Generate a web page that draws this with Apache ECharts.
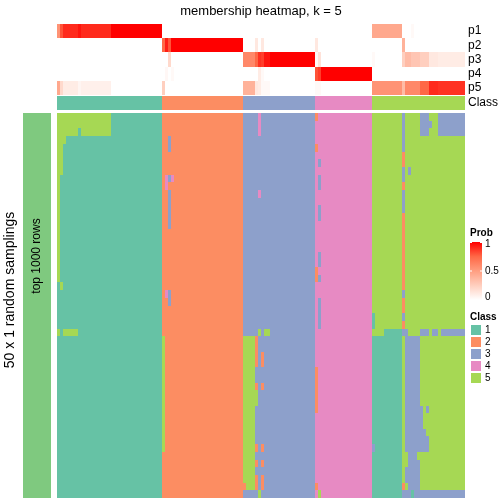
<!DOCTYPE html>
<html><head><meta charset="utf-8">
<script src="https://cdn.jsdelivr.net/npm/echarts@6/dist/echarts.min.js"></script>
<style>html,body{margin:0;padding:0;background:#fff}#c{width:504px;height:504px}</style>
</head><body><div id="c"></div>
<script>
const FONT = '"Liberation Sans", Arial, Helvetica, sans-serif';
const titleText = 'membership heatmap, k = 5';
const probRows = ['p1', 'p2', 'p3', 'p4', 'p5'];
const classRowLabel = 'Class';
const classLabels = ['1', '2', '3', '4', '5'];
const classColors = ['#66C2A5', '#FC8D62', '#8DA0CB', '#E78AC3', '#A6D854'];
const probTicks = ['1', '0.5', '0'];
const rowTitle = 'top 1000 rows';
const sideTitle = '50 x 1 random samplings';

// membership probabilities per sample (136 samples), grouped by class block
const p1 = [
  .55,.8,.9,.9,.9,.9,.9,.95,.9,.9,.9,.9,.9,.9,.9,.9,.9,.9,1,1,1,1,1,1,1,1,1,1,1,1,1,1,1,1,1,
  0,0,0,0,0,0,0,0,0,0,0,0,0,0,0,0,0,0,0,0,0,0,0,0,0,0,0,
  0,0,0,0,0,0,0,0,0,0,0,0,0,0,0,0,0,0,0,0,0,0,0,0,
  0,0,0,0,0,0,0,0,0,0,0,0,0,0,0,0,0,0,0,
  .45,.45,.45,.45,.45,.45,.45,.45,.45,.45,0,0,0,.03,0,0,0,0,0,0,0,0,0,0,0,0,0,0,0,0,0
];
const p2 = [
  0,0,0,0,0,0,0,0,0,0,0,0,0,0,0,0,0,0,0,0,0,0,0,0,0,0,0,0,0,0,0,0,0,0,0,
  .75,.93,.8,1,1,1,1,1,1,1,1,1,1,1,1,1,1,1,1,1,1,1,1,1,1,1,1,
  0,0,0,0,.12,0,.12,0,0,0,0,0,0,0,0,0,0,0,0,0,0,0,0,0,
  .12,0,0,0,0,0,0,0,0,0,0,0,0,0,0,0,0,0,0,
  0,0,0,0,0,0,0,0,0,0,.4,0,0,0,0,0,0,0,0,0,0,0,0,0,0,0,0,0,0,0,0
];
const p3 = [
  0,0,0,0,0,0,0,0,0,0,0,0,0,0,0,0,0,0,0,0,0,0,0,0,0,0,0,0,0,0,0,0,0,0,0,
  0,0,.2,0,0,0,0,0,0,0,0,0,0,0,0,0,0,0,0,0,0,0,0,0,0,0,0,
  .6,.6,.6,.6,.75,.88,.85,.95,.95,1,1,1,1,1,1,1,1,1,1,1,1,1,1,1,
  .03,.15,0,0,0,0,0,0,0,0,0,0,0,0,0,0,0,0,0,
  .03,0,0,0,0,0,0,0,0,0,.25,.35,.35,.3,.3,.3,.25,.25,.25,.12,.12,.12,.1,.1,.1,.1,.1,.1,.1,.1,.1
];
const p4 = [
  0,0,0,0,0,0,0,0,0,0,0,0,0,0,0,0,0,0,0,0,0,0,0,0,0,0,0,0,0,0,0,0,0,0,0,
  0,.04,0,.03,0,0,0,0,0,0,0,0,0,0,0,0,0,0,0,0,0,0,0,0,0,0,0,
  0,0,0,0,0,.1,.03,0,0,0,0,0,0,0,0,0,0,0,0,0,0,0,0,0,
  .8,.85,1,1,1,1,1,1,1,1,1,1,1,1,1,1,1,1,1,
  0,0,0,0,0,0,0,0,0,0,0,0,0,0,0,0,0,0,0,0,0,0,0,0,0,0,0,0,0,0,0
];
const p5 = [
  .45,.2,.1,.1,.1,.1,.1,.05,.08,.08,.08,.08,.08,.08,.08,.08,.08,.08,0,0,0,0,0,0,0,0,0,0,0,0,0,0,0,0,0,
  .25,0,0,0,0,0,0,0,0,0,0,0,0,0,0,0,0,0,0,0,0,0,0,0,0,0,0,
  .4,.4,.4,.4,.12,.1,.03,.03,.03,0,0,0,0,0,0,0,0,0,0,0,0,0,0,0,
  .03,.03,0,0,0,0,0,0,0,0,0,0,0,0,0,0,0,0,0,
  .55,.55,.55,.55,.55,.55,.55,.55,.55,.55,.35,.6,.6,.6,.6,.6,.75,.75,.75,.9,.9,.9,.88,.88,.88,.88,.88,.88,.88,.88,.88
];

// consensus class of each sample
const consensusClass = '11111 11111 11111 11111 11111 11111 11111|22222 22222 22222 22222 22222 22|33333 33333 33333 33333 3333|44444 44444 44444 4444|55555 55555 55555 55555 55555 55555 5';

// class of each sample in each of the 50 random samplings (rows)
const samplings = [
 '55555 55555 55555 55511 11111 11111 11111|22222 22222 22222 22222 22222 22|33333 43333 33333 33333 3333|24444 44444 44444 4444|55555 55555 35555 53335 55333 33333 3',
 '55555 55555 55555 55511 11111 11111 11111|22222 22222 22222 22222 22222 22|33333 43333 33333 33333 3333|44444 44444 44444 4444|55555 55555 35555 53333 55333 33333 3',
 '55555 55155 55555 55511 11111 11111 11111|22222 22222 22222 22222 22222 22|33333 43333 33333 33333 3333|44444 44444 44444 4444|55555 55555 35555 53335 55333 33333 3',
 '55511 11111 11111 11111 11111 11111 11111|22322 22222 22222 22222 22222 22|33333 33333 33333 33333 3333|44444 44444 44444 4444|55555 55555 35555 55555 55555 55555 5',
 '55111 11111 11111 11111 11111 11111 11111|22322 22222 22222 22222 22222 22|33333 33333 33333 33333 3333|24444 44444 44444 4444|55555 55555 35555 55555 55555 55555 5',
 '55111 11111 11111 11111 11111 11111 11111|22222 22222 22222 22222 22222 22|33333 33333 33333 33333 3333|44444 44444 44444 4444|55555 55555 25555 55555 55555 55555 5',
 '55111 11111 11111 11111 11111 11111 11111|22222 22222 22222 22222 22222 22|33333 33333 33333 33333 3333|43444 44444 44444 4444|55555 55555 25555 55555 55555 55555 5',
 '55111 11111 11111 11111 11111 11111 11111|22222 22222 22222 22222 22222 22|33333 33333 33333 33333 3333|44444 44444 44444 4444|55555 55555 35355 55555 55555 55555 5',
 '51111 11111 11111 11111 11111 11111 11111|24342 22222 22222 22222 22222 22|33333 33333 33333 33333 3333|43444 44444 44444 4444|55555 55555 35555 55555 55555 55555 5',
 '51111 11111 11111 11111 11111 11111 11111|24222 22222 22222 22222 22222 22|33333 33333 33333 33333 3333|43444 44444 44444 4444|55555 55555 25555 55555 55555 55555 5',
 '51111 11111 11111 11111 11111 11111 11111|22322 22222 22222 22222 22222 22|33333 43333 33333 33333 3333|44444 44444 44444 4444|55555 55555 35555 55555 55555 55555 5',
 '51111 11111 11111 11111 11111 11111 11111|22322 22222 22222 22222 22222 22|33333 33333 33333 33333 3333|44444 44444 44444 4444|55555 55555 35555 55555 55555 55555 5',
 '51111 11111 11111 11111 11111 11111 11111|22322 22222 22222 22222 22222 22|33333 33333 33333 33333 3333|43444 44444 44444 4444|55555 55555 35555 55555 55555 55555 5',
 '51111 11111 11111 11111 11111 11111 11111|22322 22222 22222 22222 22222 22|33333 33333 33333 33333 3333|43444 44444 44444 4444|55555 55555 25555 55555 55555 55555 5',
 '51111 11111 11111 11111 11111 11111 11111|22322 22222 22222 22222 22222 22|33333 33333 33333 33333 3333|44444 44444 44444 4444|55555 55555 25555 55555 55555 55555 5',
 '51111 11111 11111 11111 11111 11111 11111|22222 22222 22222 22222 22222 22|33333 33333 33333 33333 3333|44444 44444 44444 4444|55555 55555 25555 55555 55555 55555 5',
 '51111 11111 11111 11111 11111 11111 11111|22222 22222 22222 22222 22222 22|33333 33333 33333 33333 3333|44444 44444 44444 4444|55555 55555 25555 55555 55555 55555 5',
 '51111 11111 11111 11111 11111 11111 11111|22222 22222 22222 22222 22222 22|33333 33333 33333 33333 3333|44444 44444 44444 4444|55555 55555 25555 55555 55555 55555 5',
 '51111 11111 11111 11111 11111 11111 11111|22222 22222 22222 22222 22222 22|33333 33333 33333 33333 3333|43444 44444 44444 4444|55555 55555 25555 55555 55555 55555 5',
 '51111 11111 11111 11111 11111 11111 11111|22222 22222 22222 22222 22222 22|33333 33333 33333 33333 3333|43444 44444 44444 4444|55555 55555 25555 55555 55555 55555 5',
 '51111 11111 11111 11111 11111 11111 11111|22222 22222 22222 22222 22222 22|33333 33333 33333 33333 3333|24444 44444 44444 4444|55555 55555 25555 55555 55555 55555 5',
 '51111 11111 11111 11111 11111 11111 11111|22222 22222 22222 22222 22222 22|33333 33333 33333 33333 3333|23444 44444 44444 4444|55555 55555 25555 55555 55555 55555 5',
 '15111 11111 11111 11111 11111 11111 11111|22222 22222 22222 22222 22222 22|33333 33333 33333 33333 3333|44444 44444 44444 4444|55555 55555 25555 55555 55555 55555 5',
 '11111 11111 11111 11111 11111 11111 11111|24322 22222 22222 22222 22222 22|33333 33333 33333 33333 3333|44444 44444 44444 4444|55555 55555 35555 55555 55555 55555 5',
 '11111 11111 11111 11111 11111 11111 11111|22322 22222 22222 22222 22222 22|33333 33333 33333 33333 3333|43444 44444 44444 4444|55555 55555 25555 55555 55555 55555 5',
 '11111 11111 11111 11111 11111 11111 11111|22222 22222 22222 22222 22222 22|33333 33333 33333 33333 3333|43444 44444 44444 4444|55555 55555 25555 55555 55555 55555 5',
 '11111 11111 11111 11111 11111 11111 11111|22222 22222 22222 22222 22222 22|33333 33333 33333 33333 3333|43444 44444 44444 4444|15555 55555 35555 55555 55555 55555 5',
 '11111 11111 11111 11111 11111 11111 11111|22222 22222 22222 22222 22222 22|33333 33333 33333 33333 3333|43444 44444 44444 4444|15555 55555 25555 55555 55555 55555 5',
 '51555 55111 11111 11111 11111 11111 11111|22222 22222 22222 22222 22222 22|33333 53553 33333 33333 3333|44444 44444 44444 4444|55551 11111 33555 53335 33533 33333 3',
 '11111 11111 11111 11111 11111 11111 11111|52222 22222 22222 22222 22222 22|55552 33333 33333 33333 3333|44444 44444 44444 4444|11111 11111 53333 35555 55555 55555 5',
 '11111 11111 11111 11111 11111 11111 11111|52222 22222 22222 22222 22222 22|55552 33333 33333 33333 3333|44444 44444 44444 4444|11111 11111 53333 35555 55555 55555 5',
 '11111 11111 11111 11111 11111 11111 11111|52222 22222 22222 22222 22222 22|55552 32333 33333 33333 3333|44444 44444 44444 4444|11111 11111 53333 35555 55555 55555 5',
 '11111 11111 11111 11111 11111 11111 11111|52222 22222 22222 22222 22222 22|55552 32333 33333 33333 3333|44444 44444 44444 4444|11111 11111 53333 35555 55555 55555 5',
 '11111 11111 11111 11111 11111 11111 11111|52222 22222 22222 22222 22222 22|55553 33333 33333 33333 3333|24444 44444 44444 4444|11111 11111 53333 35555 55555 55555 5',
 '11111 11111 11111 11111 11111 11111 11111|52222 22222 22222 22222 22222 22|55553 33333 33333 33333 3333|24444 44444 44444 4444|11111 11111 53333 35555 55555 55555 5',
 '11111 11111 11111 11111 11111 11111 11111|52222 22222 22222 22222 22222 22|55552 32333 33333 33333 3333|24444 44444 44444 4444|11111 11111 53333 35555 55555 55555 5',
 '11111 11111 11111 11111 11111 11111 11111|52222 22222 22222 22222 22222 22|55555 33333 33333 33333 3333|24444 44444 44444 4444|11111 11111 53333 35555 55555 55555 5',
 '11111 11111 11111 11111 11111 11111 11111|52222 22222 22222 22222 22222 22|55555 33333 33333 33333 3333|24444 44444 44444 4444|11111 11111 53333 35555 55555 55555 5',
 '11111 11111 11111 11111 11111 11111 11111|52222 22222 22222 22222 22222 22|55553 33333 33333 33333 3333|24444 44444 44444 4444|11111 11111 53333 33535 55555 55555 5',
 '11111 11111 11111 11111 11111 11111 11111|52222 22222 22222 22222 22222 22|55553 33333 33333 33333 3333|44444 44444 44444 4444|11111 11111 53333 33555 55555 55555 5',
 '11111 11111 11111 11111 11111 11111 11111|52222 22222 22222 22222 22222 22|55553 33333 33333 33333 3333|44444 44444 44444 4444|11111 11111 53333 33555 55555 55555 5',
 '11111 11111 11111 11111 11111 11111 11111|52222 22222 22222 22222 22222 22|55553 33333 33333 33333 3333|44444 44444 44444 4444|11111 11111 53333 33355 55555 55555 5',
 '11111 11111 11111 11111 11111 11111 11111|52222 22222 22222 22222 22222 22|55553 33333 33333 33333 3333|44444 44444 44444 4444|11111 11111 53333 33335 55555 55555 5',
 '11111 11111 11111 11111 11111 11111 11111|52222 22222 22222 22222 22222 22|55552 32333 33333 33333 3333|44444 44444 44444 4444|31111 11111 53333 33335 55555 55555 5',
 '11111 11111 11111 11111 11111 11111 11111|22222 22222 22222 22222 22222 22|55553 33333 33333 33333 3333|44444 44444 44444 4444|11111 11111 55333 55555 55555 55555 5',
 '11111 11111 11111 11111 11111 11111 11111|22222 22222 22222 22222 22222 22|55552 32333 33333 33333 3333|44444 44444 44444 4444|11111 11111 55333 35555 55555 55555 5',
 '11111 11111 11111 11111 11111 11111 11111|22222 22222 22222 22222 22222 22|55553 33333 33333 33333 3333|44444 44444 44444 4444|11111 11111 53333 35555 55555 55555 5',
 '11111 11111 11111 11111 11111 11111 11111|22222 22222 22222 22222 22222 22|55552 32333 33333 33333 3333|44444 44444 44444 4444|11111 11111 53333 35555 55555 55555 5',
 '11111 11111 11111 11111 11111 11111 11111|22222 22222 22222 22222 22222 22|25552 32333 33333 33333 3333|24444 44444 44444 4444|11111 11111 25333 35555 55555 55555 5',
 '11111 11111 11111 11111 11111 11111 11111|22222 22222 22222 22222 22222 22|33333 53333 33333 33333 3333|45444 44444 44444 4444|11111 11111 33313 33333 33333 33333 3'
];

const probScale = ['#FFFFFF', '#FFCFBF', '#FF9E81', '#FF6846', '#FF0000'];
const sideBarColor = '#7FC97F';

// ---------- build ----------
const clean = s => s.replace(/[ |]/g, '');
const N = 136;
const probs = [p1, p2, p3, p4, p5];
probs.forEach((a, i) => { if (a.length !== N) throw new Error('p' + (i + 1) + ' length ' + a.length); });
const consensusStr = clean(consensusClass);
if (consensusStr.length !== N) throw new Error('consensus length ' + consensusStr.length);
const rowStrs = samplings.map(clean);
rowStrs.forEach((r, i) => { if (r.length !== N) throw new Error('row ' + i + ' length ' + r.length); });

const cols = Array.from({ length: N }, (_, i) => String(i));
const rowIds = rowStrs.map((_, i) => String(i));

const probData = [];
probs.forEach((a, r) => a.forEach((v, c) => probData.push([c, r, v])));
const consensusData = [];
for (let c = 0; c < N; c++) consensusData.push([c, 0, +consensusStr[c]]);
const mainData = [];
rowStrs.forEach((s, r) => { for (let c = 0; c < N; c++) mainData.push([c, r, +s[c]]); });

// cell drawn from the axes' own band scales, snapped to whole pixels so neighbours meet exactly
const snap = v => Math.round(Math.round(v * 1000) / 1000);
function cell(params, api) {
  const p = api.coord([api.value(0), api.value(1)]);
  const sz = api.size([1, 1]);
  const x0 = snap(p[0] - sz[0] / 2), x1 = snap(p[0] + sz[0] / 2);
  const y0 = snap(p[1] - sz[1] / 2), y1 = snap(p[1] + sz[1] / 2);
  return { type: 'rect', shape: { x: x0, y: y0, width: x1 - x0, height: y1 - y0 },
    style: { fill: api.visual('color') } };
}

const L = 57, W = 408;
const hidden = { show: false };
function xa(i) { return { type: 'category', gridIndex: i, data: cols, show: false }; }

const chart = echarts.init(document.getElementById('c'), null, { renderer: 'canvas' });

const gTop = 242, gH = 58, gX = 470, gW = 12;
const legendGraphics = [
  { type: 'text', x: gX, y: 233, style: { text: 'Prob', font: 'bold 10px ' + FONT, fill: '#000', textVerticalAlign: 'middle' } },
  { type: 'rect', shape: { x: gX, y: gTop, width: gW, height: gH },
    style: { fill: { type: 'linear', x: 0, y: 0, x2: 0, y2: 1, colorStops: probScale.slice().reverse().map((c, i) => ({ offset: i / 4, color: c })) } } },
  { type: 'line', shape: { x1: gX, y1: gTop + 0.5, x2: gX + 2, y2: gTop + 0.5 }, style: { stroke: '#fff', lineWidth: 1 } },
  { type: 'line', shape: { x1: gX + gW - 2, y1: gTop + 0.5, x2: gX + gW, y2: gTop + 0.5 }, style: { stroke: '#fff', lineWidth: 1 } },
  { type: 'line', shape: { x1: gX, y1: gTop + gH / 2, x2: gX + 2, y2: gTop + gH / 2 }, style: { stroke: '#fff', lineWidth: 1 } },
  { type: 'line', shape: { x1: gX + gW - 2, y1: gTop + gH / 2, x2: gX + gW, y2: gTop + gH / 2 }, style: { stroke: '#fff', lineWidth: 1 } }
];
probTicks.forEach((t, i) => {
  legendGraphics.push({ type: 'text', x: gX + gW + 3, y: [gTop + 2.5, gTop + gH / 2, gTop + gH - 2.5][i],
    style: { text: t, font: '10px ' + FONT, fill: '#000', textVerticalAlign: 'middle' } });
});
const cTop = 317;
legendGraphics.push({ type: 'text', x: gX, y: cTop, style: { text: 'Class', font: 'bold 10px ' + FONT, fill: '#000', textVerticalAlign: 'middle' } });
classLabels.forEach((lab, i) => {
  const y = cTop + 8 + i * 12;
  legendGraphics.push({ type: 'rect', shape: { x: gX + 1, y: y, width: 10, height: 10 }, style: { fill: classColors[i] } });
  legendGraphics.push({ type: 'text', x: gX + gW + 3, y: y + 5, style: { text: lab, font: '10px ' + FONT, fill: '#000', textVerticalAlign: 'middle' } });
});

const rightLabel = { margin: 3, fontSize: 12, color: '#000', fontFamily: FONT, interval: 0 };

chart.setOption({
  animation: false,
  backgroundColor: '#fff',
  grid: [
    { left: L, top: 24, width: W, height: 71 },
    { left: L, top: 96, width: W, height: 14 },
    { left: L, top: 113, width: W, height: 385 }
  ],
  xAxis: [xa(0), xa(1), xa(2)],
  yAxis: [
    { type: 'category', gridIndex: 0, data: probRows, inverse: true, position: 'right',
      axisLine: hidden, axisTick: hidden, splitLine: hidden, axisLabel: rightLabel },
    { type: 'category', gridIndex: 1, data: [classRowLabel], position: 'right',
      axisLine: hidden, axisTick: hidden, splitLine: hidden, axisLabel: rightLabel },
    { type: 'category', gridIndex: 2, data: rowIds, inverse: true, show: false }
  ],
  visualMap: [
    { type: 'continuous', seriesIndex: 0, dimension: 2, min: 0, max: 1, show: false, inRange: { color: probScale } },
    { type: 'piecewise', seriesIndex: [1, 2], dimension: 2, show: false,
      pieces: classColors.map((c, i) => ({ value: i + 1, color: c })) }
  ],
  series: [
    { type: 'custom', xAxisIndex: 0, yAxisIndex: 0, data: probData, renderItem: cell, progressive: 0, encode: { x: 0, y: 1 } },
    { type: 'custom', xAxisIndex: 1, yAxisIndex: 1, data: consensusData, renderItem: cell, progressive: 0, encode: { x: 0, y: 1 } },
    { type: 'custom', xAxisIndex: 2, yAxisIndex: 2, data: mainData, renderItem: cell, progressive: 0, encode: { x: 0, y: 1 } }
  ],
  graphic: [
    { type: 'text', x: L + W / 2, y: 11, style: { text: titleText, font: '13px ' + FONT, fill: '#000', textAlign: 'center', textVerticalAlign: 'middle' } },
    { type: 'rect', shape: { x: 23, y: 113, width: 28, height: 385 }, style: { fill: sideBarColor } },
    { type: 'text', x: 37, y: 256, rotation: Math.PI / 2, style: { text: rowTitle, font: '12px ' + FONT, fill: '#000', textAlign: 'center', textVerticalAlign: 'middle' } },
    { type: 'text', x: 10, y: 290, rotation: Math.PI / 2, style: { text: sideTitle, font: '14px ' + FONT, fill: '#000', textAlign: 'center', textVerticalAlign: 'middle' } }
  ].concat(legendGraphics)
});
</script>
</body></html>
